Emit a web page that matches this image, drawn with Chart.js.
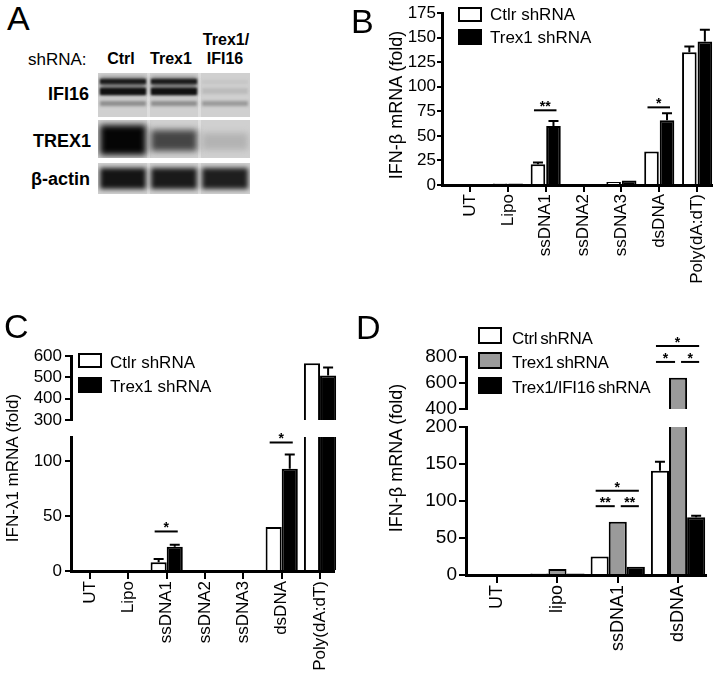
<!DOCTYPE html>
<html><head><meta charset="utf-8">
<script src="https://cdn.jsdelivr.net/npm/chart.js@4.4.1/dist/chart.umd.min.js"></script>
<style>
html,body{margin:0;padding:0;background:#fff;}
body{position:relative;width:717px;height:673px;overflow:hidden;font-family:'Liberation Sans',Arial,Helvetica,sans-serif;color:#000;}
.t{position:absolute;white-space:nowrap;line-height:1;}
.box{position:absolute;box-sizing:border-box;border:2.5px solid #000;}
canvas{position:absolute;}
</style></head><body>
<script>
// ---------------- DATA ----------------
// Panel A (western blot)
const blotLanes = ['Ctrl', 'Trex1', 'Trex1/IFI16'];
const blotRows = ['IFI16', 'TREX1', 'β-actin'];

// Panel B: IFN-β mRNA (fold)
const catsB = ['UT', 'Lipo', 'ssDNA1', 'ssDNA2', 'ssDNA3', 'dsDNA', 'Poly(dA:dT)'];
const ctrlB = [0.5, 1.5, 21, 0.5, 3, 34, 135];
const ctrlErrB = [0, 0, 2, 0, 0, 0, 6];
const trexB = [0.5, 1.5, 60, 0.5, 4.5, 66, 146];
const trexErrB = [0, 0, 5, 0, 0, 7, 12];
const yTicksB = [0, 25, 50, 75, 100, 125, 150, 175];
const sigB = [{cat: 2, a: 0, b: 1, level: 76, mark: '**'}, {cat: 5, a: 0, b: 1, level: 79, mark: '*'}];

// Panel C: IFN-λ1 mRNA (fold)
const catsC = ['UT', 'Lipo', 'ssDNA1', 'ssDNA2', 'ssDNA3', 'dsDNA', 'Poly(dA:dT)'];
const ctrlC = [0.3, 1, 8, 0.5, 0.8, 40, 566];
const ctrlErrC = [0, 0, 3, 0, 0, 0, 0];
const trexC = [0.3, 1, 22, 0.5, 0.8, 93, 509];
const trexErrC = [0, 0, 2, 0, 0, 13, 37];
const yTicksCUpper = [300, 400, 500, 600];
const yTicksCLower = [0, 50, 100];
const sigC = [{cat: 2, a: 0, b: 1, level: 36, mark: '*'}, {cat: 5, a: 0, b: 1, level: 117, mark: '*'}];

// Panel D: IFN-β mRNA (fold)
const catsD = ['UT', 'lipo', 'ssDNA1', 'dsDNA'];
const ctrlD = [1, 2, 25, 141];
const ctrlErrD = [0, 0, 0, 12];
const trexD = [1, 8, 72, 640];
const trexErrD = [0, 0, 0, 0];
const trexIfiD = [1, 2, 11, 78];
const trexIfiErrD = [0, 0, 0, 2];
const yTicksDUpper = [400, 600, 800];
const yTicksDLower = [0, 50, 100, 150, 200];
const sigDLower = [{cat: 2, a: 0, b: 2, level: 114, mark: '*'}, {cat: 2, a: 0, b: 1, level: 93, mark: '**'}, {cat: 2, a: 1, b: 2, level: 93, mark: '**'}];
const sigDUpper = [{cat: 3, a: 0, b: 2, level: 884, mark: '*'}, {cat: 3, a: 0, b: 1, level: 762, mark: '*'}, {cat: 3, a: 1, b: 2, level: 762, mark: '*'}];

// ---------------- HELPERS ----------------
const FONT = "'Liberation Sans', Arial, Helvetica, sans-serif";
function txt(s, x, base, size, opt) {
  opt = opt || {};
  const d = document.createElement('div');
  d.className = 't';
  d.textContent = s;
  d.style.fontSize = size + 'px';
  d.style.fontWeight = opt.bold ? 'bold' : 'normal';
  if (opt.ls) d.style.letterSpacing = opt.ls + 'px';
  if (opt.ws) d.style.wordSpacing = opt.ws + 'px';
  d.style.top = (base - 0.8465 * size) + 'px';
  d.style.left = x + 'px';
  if (opt.align === 'center') d.style.transform = 'translateX(-50%)';
  if (opt.align === 'right') d.style.transform = 'translateX(-100%)';
  d.style.zIndex = 5;
  document.body.appendChild(d);
  return d;
}
function vtxt(s, cx, cy, size) {
  const d = document.createElement('div');
  d.className = 't';
  d.textContent = s;
  d.style.fontSize = size + 'px';
  d.style.left = cx + 'px';
  d.style.top = cy + 'px';
  d.style.transform = 'translate(-50%,-50%) rotate(-90deg)';
  document.body.appendChild(d);
}
function box(x, y, w, h, fill) {
  const d = document.createElement('div');
  d.className = 'box';
  d.style.left = x + 'px'; d.style.top = y + 'px';
  d.style.width = w + 'px'; d.style.height = h + 'px';
  d.style.background = fill;
  d.style.zIndex = 5;
  document.body.appendChild(d);
}

const errPlugin = {
  id: 'errbars',
  afterDatasetsDraw(chart) {
    const {ctx, chartArea: a} = chart;
    const y = chart.scales.y;
    ctx.save();
    ctx.beginPath();
    ctx.rect(a.left - 40, a.top - 1, a.right - a.left + 80, a.bottom - a.top + 1);
    ctx.clip();
    ctx.strokeStyle = '#000';
    ctx.lineWidth = 2;
    chart.data.datasets.forEach((ds, di) => {
      if (!ds.errors) return;
      chart.getDatasetMeta(di).data.forEach((bar, i) => {
        const e = ds.errors[i];
        if (!e) return;
        const v = ds.data[i].y;
        const yb = y.getPixelForValue(v);
        const yt = y.getPixelForValue(v + e);
        ctx.beginPath();
        ctx.moveTo(bar.x, yb); ctx.lineTo(bar.x, yt);
        ctx.moveTo(bar.x - 5, yt); ctx.lineTo(bar.x + 5, yt);
        ctx.stroke();
      });
    });
    ctx.restore();
  }
};
function sigPlugin(marks) {
  return {
    id: 'sig',
    afterDatasetsDraw(chart) {
      if (!marks || !marks.length) return;
      const ctx = chart.ctx;
      const y = chart.scales.y;
      const n = chart.data.datasets.length;
      ctx.save();
      ctx.strokeStyle = '#000'; ctx.fillStyle = '#000'; ctx.lineWidth = 2;
      ctx.font = 'bold 14px ' + FONT;
      ctx.textAlign = 'center'; ctx.textBaseline = 'alphabetic';
      marks.forEach(m => {
        const b0 = chart.getDatasetMeta(m.a).data[m.cat];
        const b1 = chart.getDatasetMeta(m.b).data[m.cat];
        const x1 = m.a === 0 ? b0.x - 4 : b0.x + 3;
        const x2 = m.b === n - 1 ? b1.x + 3 : b1.x - 3;
        const yy = y.getPixelForValue(m.level);
        ctx.beginPath(); ctx.moveTo(x1, yy); ctx.lineTo(x2, yy); ctx.stroke();
        ctx.fillText(m.mark, (x1 + x2) / 2, yy + 1);
      });
      ctx.restore();
    }
  };
}
function axisPlugin(showX) {
  return {
    id: 'axislines',
    afterDatasetsDraw(chart) {
      const {ctx, chartArea: a} = chart;
      ctx.save();
      ctx.strokeStyle = '#000';
      ctx.lineWidth = 3;
      ctx.lineCap = 'butt';
      const xl = Math.round(a.left) - 0.5;
      ctx.beginPath();
      ctx.moveTo(xl, a.top - 1);
      ctx.lineTo(xl, a.bottom + (showX ? 1.5 : 1));
      ctx.stroke();
      if (showX) {
        const yb = Math.round(a.bottom) + 0.5;
        ctx.beginPath();
        ctx.moveTo(xl - 1.5, yb);
        ctx.lineTo(a.right, yb);
        ctx.stroke();
      }
      ctx.restore();
    }
  };
}

function buildChart(spec) {
  const cv = document.createElement('canvas');
  cv.width = spec.w; cv.height = spec.h;
  cv.style.left = spec.x + 'px'; cv.style.top = spec.y + 'px';
  cv.style.width = spec.w + 'px'; cv.style.height = spec.h + 'px';
  document.body.appendChild(cv);
  const yW = spec.area.left - spec.x;
  const xH = spec.showX ? (spec.y + spec.h - spec.area.bottom) : 0;
  return new Chart(cv, {
    type: 'bar',
    data: {
      datasets: spec.series.map(s => ({
        data: s.values.map((v, i) => ({x: i, y: v})),
        errors: s.errors,
        backgroundColor: s.fill,
        borderColor: '#000',
        borderWidth: 2,
        borderSkipped: 'start',
        categoryPercentage: spec.catPct,
        barPercentage: spec.barPct,
        clip: {left: 40, right: 40, top: 0, bottom: 0}
      }))
    },
    options: {
      responsive: false, animation: false, devicePixelRatio: 1,
      events: [],
      layout: {padding: {
        top: spec.area.top - spec.y,
        right: spec.x + spec.w - spec.area.right,
        bottom: spec.showX ? 0 : (spec.y + spec.h - spec.area.bottom),
        left: 0
      }},
      plugins: {legend: {display: false}, tooltip: {enabled: false}},
      scales: {
        x: {
          type: 'linear', min: spec.xMin, max: spec.xMax, offset: false, display: spec.showX,
          grid: {display: true, offset: false, drawOnChartArea: false, drawTicks: true,
                 tickLength: spec.xTickLen, color: '#000', lineWidth: 2},
          border: {display: false},
          ticks: {autoSkip: false, minRotation: 90, maxRotation: 90, padding: 2, color: '#000',
                  font: {family: FONT, size: spec.xFont},
                  callback: (v) => spec.cats[v]},
          afterBuildTicks: (s) => { s.ticks = spec.cats.map((c, i) => ({value: i})); },
          afterFit: (s) => { s.height = xH; s.paddingLeft = 0; s.paddingRight = 0; }
        },
        y: {
          type: 'linear', min: spec.yMin, max: spec.yMax,
          grid: {drawOnChartArea: false, drawTicks: true, tickLength: spec.yTickLen, color: '#000', lineWidth: 2},
          border: {display: false},
          ticks: {autoSkip: false, color: '#000', padding: spec.yPad, font: {family: FONT, size: spec.yFont}},
          afterBuildTicks: (s) => { s.ticks = spec.yTicks.map(v => ({value: v})); },
          afterFit: (s) => { s.width = yW; s.paddingTop = 0; s.paddingBottom = 0; }
        }
      }
    },
    plugins: [errPlugin, sigPlugin(spec.sig), axisPlugin(spec.showX)]
  });
}

// ---------------- PANEL A ----------------
txt('A', 7, 30, 34);
txt('shRNA:', 28, 65, 17);
txt(blotLanes[0], 121, 65, 16, {bold: true, align: 'center'});
txt(blotLanes[1], 171, 65, 16, {bold: true, align: 'center'});
txt('Trex1/', 226, 46, 16, {bold: true, align: 'center'});
txt('IFI16', 225, 65, 16, {bold: true, align: 'center'});
txt(blotRows[0], 89, 100, 18, {bold: true, align: 'right'});
txt(blotRows[1], 91, 147, 18, {bold: true, align: 'right'});
txt(blotRows[2], 90, 185, 18, {bold: true, align: 'right'});
(function drawBlot() {
  const cv = document.createElement('canvas');
  cv.width = 152; cv.height = 121;
  cv.style.left = '98px'; cv.style.top = '73px';
  document.body.appendChild(cv);
  const c = cv.getContext('2d');
  const lanes = [[0, 50], [51, 101], [102, 152]];
  const strips = [[0, 44], [47, 85], [90, 121]];
  strips.forEach(([y0, y1]) => {
    c.fillStyle = '#d0d0d0'; c.fillRect(0, y0, 152, y1 - y0);
    c.fillStyle = '#dedede'; c.fillRect(49, y0, 3, y1 - y0); c.fillRect(100, y0, 3, y1 - y0);
  });
  function band(l, y, h, col, blur) {
    c.save();
    c.filter = 'blur(' + (blur || 1.5) + 'px)';
    c.fillStyle = col;
    c.fillRect(lanes[l][0] + 2, y, lanes[l][1] - lanes[l][0] - 4, h);
    c.restore();
  }
  // IFI16 strip
  [0, 1].forEach(l => {
    band(l, 4, 18, '#7a7a7a', 2);
    band(l, 6, 5, '#1c1c1c', 1.3);
    band(l, 15, 7, '#111', 1.3);
    band(l, 28, 5, '#8c8c8c', 1.8);
  });
  band(2, 7, 4, '#c4c4c4', 1.8);
  band(2, 15, 6, '#bbbbbb', 1.8);
  band(2, 28, 5, '#989898', 1.8);
  // TREX1 strip
  band(0, 52, 30, '#050505', 3);
  band(1, 57, 21, '#454545', 3);
  band(2, 60, 17, '#b3b3b3', 3);
  // beta-actin strip
  band(0, 95, 21, '#141414', 2.5);
  band(1, 95, 21, '#1a1a1a', 2.5);
  band(2, 95, 21, '#1e1e1e', 2.5);
  // strip separators
  c.fillStyle = '#fff';
  c.fillRect(0, 44, 152, 3); c.fillRect(0, 85, 152, 5);
})();

// ---------------- PANEL B ----------------
txt('B', 351, 33, 34);
buildChart({
  x: 360, y: 0, w: 357, h: 330,
  area: {left: 443, right: 713, top: 13, bottom: 185},
  showX: true, cats: catsB, xMin: -0.714, xMax: 6.42,
  yMin: 0, yMax: 175, yTicks: yTicksB,
  catPct: 0.82, barPct: 0.94, xTickLen: 7, yTickLen: 6, yPad: 1, xFont: 17, yFont: 17,
  series: [
    {values: ctrlB, errors: ctrlErrB, fill: '#fff'},
    {values: trexB, errors: trexErrB, fill: '#000'}
  ],
  sig: sigB
});
vtxt('IFN-β mRNA (fold)', 396, 105, 18);
box(458, 7, 24, 15, '#fff'); box(458, 29, 24, 16, '#000');
txt('Ctlr shRNA', 490, 20, 17);
txt('Trex1 shRNA', 490, 43, 17);

// ---------------- PANEL C ----------------
txt('C', 4, 338, 34);
const cX = {xMin: -0.47, xMax: 6.39};
buildChart({
  x: 0, y: 340, w: 360, h: 92,
  area: {left: 72, right: 335, top: 356, bottom: 420},
  showX: false, cats: catsC, xMin: cX.xMin, xMax: cX.xMax,
  yMin: 300, yMax: 600, yTicks: yTicksCUpper,
  catPct: 0.84, barPct: 1.0, xTickLen: 8, yTickLen: 7, yPad: 3, xFont: 17, yFont: 17,
  series: [
    {values: ctrlC, errors: ctrlErrC, fill: '#fff'},
    {values: trexC, errors: trexErrC, fill: '#000'}
  ],
  sig: []
});
buildChart({
  x: 0, y: 424, w: 360, h: 249,
  area: {left: 72, right: 335, top: 437, bottom: 571},
  showX: true, cats: catsC, xMin: cX.xMin, xMax: cX.xMax,
  yMin: 0, yMax: 122, yTicks: yTicksCLower,
  catPct: 0.84, barPct: 1.0, xTickLen: 8, yTickLen: 7, yPad: 3, xFont: 17, yFont: 17,
  series: [
    {values: ctrlC, errors: ctrlErrC, fill: '#fff'},
    {values: trexC, errors: trexErrC, fill: '#000'}
  ],
  sig: sigC
});
vtxt('IFN-λ1 mRNA (fold)', 12, 468, 17);
box(78, 353, 24, 15, '#fff'); box(78, 377, 24, 16, '#000');
txt('Ctlr shRNA', 110, 368, 17);
txt('Trex1 shRNA', 110, 392, 17);

// ---------------- PANEL D ----------------
txt('D', 356, 339, 34);
const dSeries = [
  {values: ctrlD, errors: ctrlErrD, fill: '#fff'},
  {values: trexD, errors: trexErrD, fill: '#9a9a9a'},
  {values: trexIfiD, errors: trexIfiErrD, fill: '#000'}
];
buildChart({
  x: 360, y: 330, w: 357, h: 92,
  area: {left: 467, right: 707, top: 357, bottom: 409},
  showX: false, cats: catsD, xMin: -0.5, xMax: 3.48,
  yMin: 400, yMax: 800, yTicks: yTicksDUpper,
  catPct: 0.9, barPct: 1.0, xTickLen: 8, yTickLen: 8, yPad: 2, xFont: 18, yFont: 19,
  series: dSeries, sig: sigDUpper
});
buildChart({
  x: 360, y: 414, w: 357, h: 259,
  area: {left: 467, right: 707, top: 427, bottom: 575},
  showX: true, cats: catsD, xMin: -0.5, xMax: 3.48,
  yMin: 0, yMax: 200, yTicks: yTicksDLower,
  catPct: 0.9, barPct: 1.0, xTickLen: 8, yTickLen: 8, yPad: 2, xFont: 18, yFont: 19,
  series: dSeries, sig: sigDLower
});
vtxt('IFN-β mRNA (fold)', 396, 458, 18);
box(478, 327, 24, 17, '#fff'); box(478, 352, 24, 17, '#9a9a9a'); box(478, 377, 24, 17, '#000');
txt('Ctrl shRNA', 512, 344, 17, {ls: -0.3, ws: -1.5});
txt('Trex1 shRNA', 512, 368, 17, {ls: -0.3, ws: -1.5});
txt('Trex1/IFI16 shRNA', 512, 393, 17, {ls: -0.3, ws: -1.5});
</script>
</body></html>
